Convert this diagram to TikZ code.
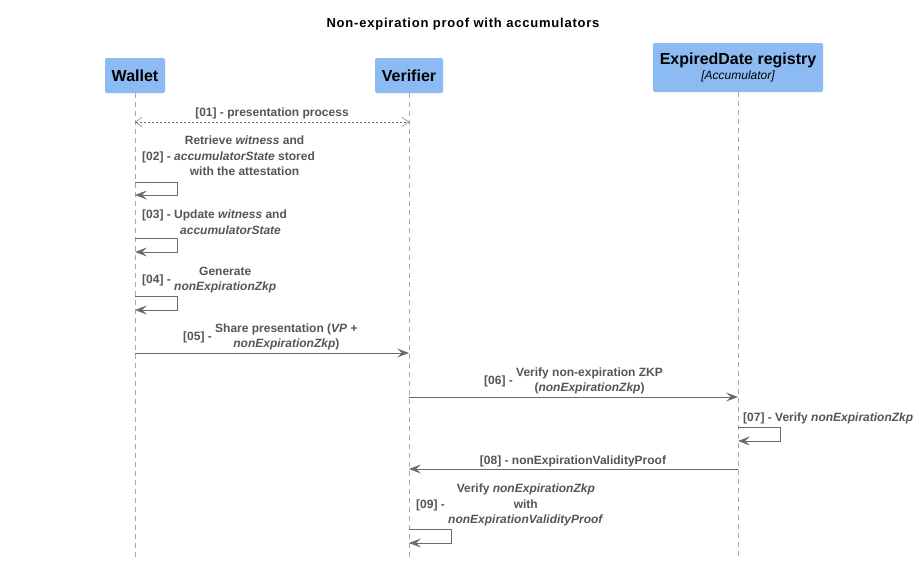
\documentclass[tikz,border=0pt]{standalone}
\usepackage{fontspec}
\setmainfont{Liberation Sans}
\usetikzlibrary{positioning, arrows.meta}
\definecolor{partblue}{HTML}{8BBBF2}
\definecolor{msggray}{HTML}{6A6A6A}
\definecolor{txtgray}{HTML}{555555}
\definecolor{linegray}{HTML}{A9A9A9}
\tikzset{Participant style/.style={fill=partblue, rounded corners=2pt, align=center, inner sep=0pt, font=\fontsize{16}{18}\selectfont\bfseries}}
\tikzset{
	Lifeline style/.style={draw=linegray, dash pattern=on 5pt off 4pt}, % lineas de vida
	Message style/.style={draw=msggray, thick, -{Stealth[length=12pt, width=9pt, inset=5pt]}}, % mensajes
	Reply style/.style={draw=msggray, dash pattern=on 2pt off 2pt, {Straight Barb[length=7pt, width=10pt]}-{Straight Barb[length=7pt, width=10pt]}},
	Label style/.style={text=txtgray, inner sep=0pt, font=\fontsize{12}{15.5}\selectfont\bfseries},
}

\begin{document}
\begin{tikzpicture}[x=1pt, y=-1pt]
        \useasboundingbox (0,0) rectangle (919,565);
        \node[font=\fontsize{13}{15}\selectfont\bfseries\addfontfeature{LetterSpace=6}] (title) at (463,24) {Non-expiration proof with accumulators};

        \node[Participant style, minimum width=60pt, minimum height=35pt] (wallet) at (135,75.5) {Wallet};
        \node[Participant style, minimum width=68pt, minimum height=35pt] (verifier) at (409,75.5) {Verifier};
        \node[Participant style, minimum width=170pt, minimum height=49pt] (registry) at (738,67.5) {ExpiredDate registry\\[-3pt]{\fontsize{12}{14}\selectfont\mdseries\itshape [Accumulator]}};

        \coordinate (wallet_end) at (135,558);
        \coordinate (verifier_end) at (409,558);
        \coordinate (registry_end) at (738,558);
        \draw[Lifeline style] (wallet) -- (wallet_end);
        \draw[Lifeline style] (verifier) -- (verifier_end);
        \draw[Lifeline style] (registry) -- (registry_end);

        % [01]
        \coordinate (w01) at (135,122);
        \coordinate (v01) at (409,122);
        \draw[Reply style] (w01) -- (v01);
        \node[Label style] (l01) at (272,113) {[01] - presentation process};

        % [02]
        \coordinate (w02a) at (135,182);
        \coordinate (w02b) at (135,195);
        \draw[Message style] (w02a) -- ++(42,0) |- (w02b);
        \node[Label style, anchor=west] (l02) at (142,157) {[02] - \begin{tabular}[c]{@{}c@{}}Retrieve \textit{witness} and\\ \textit{accumulatorState} stored\\ with the attestation\end{tabular}};

        % [03]
        \coordinate (w03a) at (135,238);
        \coordinate (w03b) at (135,252);
        \draw[Message style] (w03a) -- ++(42,0) |- (w03b);
        \node[Label style, anchor=west] (l03) at (142,223.5) {[03] - \begin{tabular}[t]{@{}c@{}}Update \textit{witness} and\\ \textit{accumulatorState}\end{tabular}};

        % [04]
        \coordinate (w04a) at (135,296);
        \coordinate (w04b) at (135,310);
        \draw[Message style] (w04a) -- ++(42,0) |- (w04b);
        \node[Label style, anchor=west] (l04) at (142,280) {[04] - \begin{tabular}[c]{@{}c@{}}Generate\\ \textit{nonExpirationZkp}\end{tabular}};

        % [05]
        \coordinate (w05) at (135,353);
        \coordinate (v05) at (409,353);
        \draw[Message style] (w05) -- (v05);
        \node[Label style, anchor=west] (l05) at (183,337) {[05] - \begin{tabular}[c]{@{}c@{}}Share presentation (\textit{VP} +\\ \textit{nonExpirationZkp})\end{tabular}};

        % [06]
        \coordinate (v06) at (409,397);
        \coordinate (r06) at (738,397);
        \draw[Message style] (v06) -- (r06);
        \node[Label style, anchor=west] (l06) at (484,381) {[06] - \begin{tabular}[c]{@{}c@{}}Verify non-expiration ZKP\\ (\textit{nonExpirationZkp})\end{tabular}};

        % [07]
        \coordinate (r07a) at (738,427);
        \coordinate (r07b) at (738,441);
        \draw[Message style] (r07a) -- ++(42,0) |- (r07b);
        \node[Label style, anchor=west] (l07) at (743,418) {[07] - Verify \textit{nonExpirationZkp}};

        % [08]
        \coordinate (r08) at (738,469);
        \coordinate (v08) at (409,469);
        \draw[Message style] (r08) -- (v08);
        \node[Label style] (l08) at (573,461) {[08] - nonExpirationValidityProof};

        % [09]
        \coordinate (v09a) at (409,529);
        \coordinate (v09b) at (409,543);
        \draw[Message style] (v09a) -- ++(42,0) |- (v09b);
        \node[Label style, anchor=west] (l09) at (416,505) {[09] - \begin{tabular}[c]{@{}c@{}}Verify \textit{nonExpirationZkp}\\ with\\ \textit{nonExpirationValidityProof}\end{tabular}};
\end{tikzpicture}
\end{document}
